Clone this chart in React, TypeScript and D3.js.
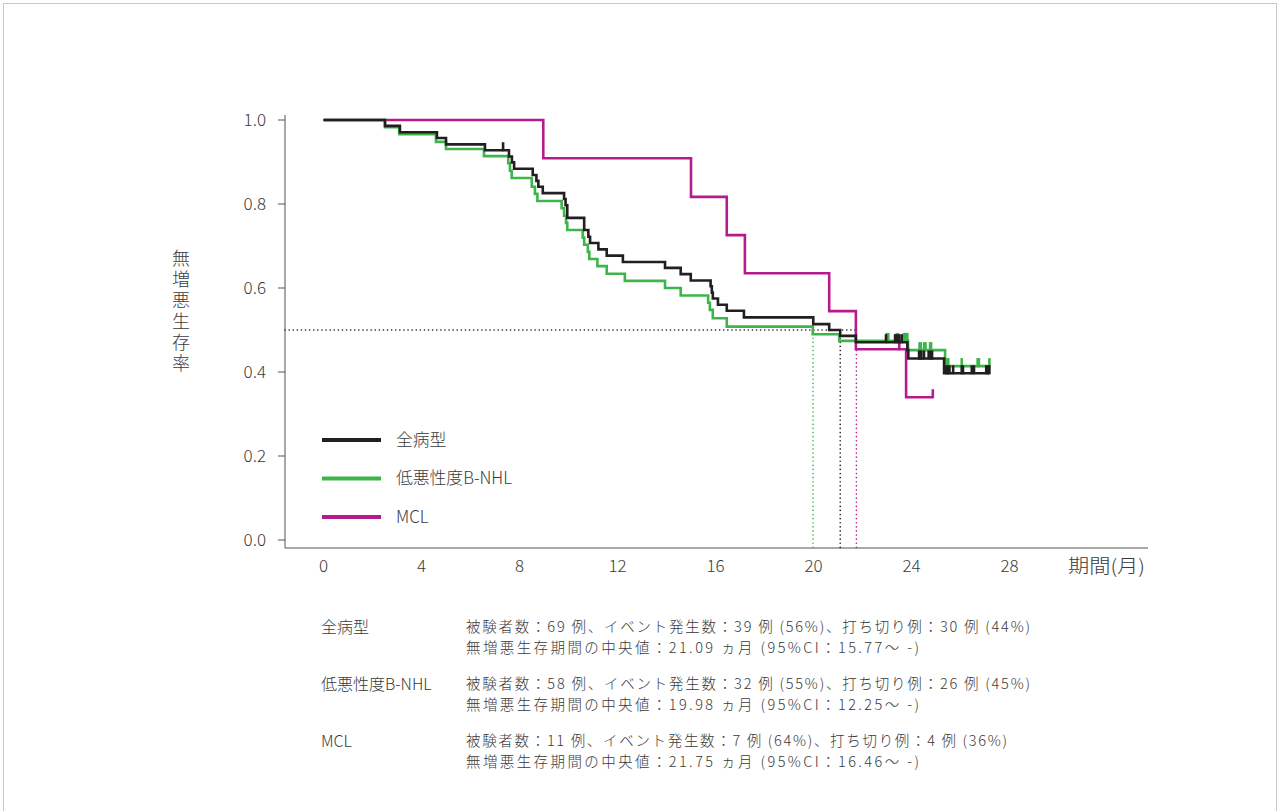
import React from "react";
import * as d3 from "d3";

// ---------- data ----------
const xTicks = [0, 4, 8, 12, 16, 20, 24, 28];
const yTicks = [0.0, 0.2, 0.4, 0.6, 0.8, 1.0];

// 全病型 (all types)
const allTimes = [2.51, 3.12, 4.63, 5.0, 6.59, 7.57, 7.69, 7.78, 8.54, 8.69, 8.77, 8.95, 9.82, 9.88, 9.95, 10.64, 10.81, 10.88, 11.22, 11.56, 12.22, 13.94, 14.58, 14.99, 15.8, 15.85, 15.89, 16.1, 16.46, 17.16, 19.99, 20.64, 21.09, 21.73, 23.83, 23.87, 25.33];
const allSurv = [0.986, 0.971, 0.957, 0.942, 0.928, 0.913, 0.899, 0.884, 0.869, 0.855, 0.841, 0.826, 0.812, 0.797, 0.767, 0.738, 0.722, 0.707, 0.692, 0.677, 0.662, 0.648, 0.633, 0.618, 0.604, 0.589, 0.575, 0.56, 0.546, 0.53, 0.514, 0.5, 0.486, 0.471, 0.452, 0.432, 0.397];
const allCensor = [7.33, 22.96, 23.33, 23.41, 23.5, 23.6, 24.31, 24.35, 24.4, 24.51, 24.7, 24.78, 24.84, 25.42, 25.48, 25.55, 25.7, 26.05, 26.1, 26.46, 26.55, 27.05, 27.12, 27.18];
const allEnd = 27.18;

// 低悪性度B-NHL (indolent B-NHL)
const indTimes = [2.51, 3.09, 4.59, 5.0, 6.55, 7.54, 7.61, 7.68, 8.5, 8.63, 8.73, 9.72, 9.82, 9.9, 9.95, 10.58, 10.64, 10.79, 10.85, 11.18, 11.56, 12.3, 13.94, 14.58, 15.7, 15.77, 15.89, 16.46, 19.97, 21.05, 23.86, 25.37];
const indSurv = [0.983, 0.966, 0.948, 0.931, 0.914, 0.897, 0.879, 0.862, 0.841, 0.824, 0.807, 0.79, 0.772, 0.755, 0.738, 0.72, 0.703, 0.686, 0.669, 0.652, 0.634, 0.617, 0.6, 0.582, 0.565, 0.548, 0.528, 0.508, 0.49, 0.474, 0.452, 0.414];
const indCensor = [22.99, 23.05, 23.4, 23.45, 23.69, 23.75, 23.83, 24.33, 24.38, 24.52, 24.57, 24.76, 24.8, 25.46, 25.5, 26.05, 26.7, 26.75, 27.18];
const indEnd = 27.18;

// MCL
const mclTimes = [8.97, 15.0, 16.46, 17.2, 20.64, 21.73, 23.78];
const mclSurv = [0.909, 0.817, 0.726, 0.635, 0.545, 0.454, 0.34];
const mclCensor = [23.5, 24.87];
const mclEnd = 24.87;

const legendLabels = ["全病型", "低悪性度B-NHL", "MCL"];
const medians = [21.09, 19.98, 21.75];

const tableLabels = ["全病型", "低悪性度B-NHL", "MCL"];
const tableLine1 = [
  "被験者数：69 例、イベント発生数：39 例 (56%)、打ち切り例：30 例 (44%)",
  "被験者数：58 例、イベント発生数：32 例 (55%)、打ち切り例：26 例 (45%)",
  "被験者数：11 例、イベント発生数：7 例 (64%)、打ち切り例：4 例 (36%)",
];
const tableLine2 = [
  "無増悪生存期間の中央値：21.09 ヵ月 (95%CI：15.77～ -)",
  "無増悪生存期間の中央値：19.98 ヵ月 (95%CI：12.25～ -)",
  "無増悪生存期間の中央値：21.75 ヵ月 (95%CI：16.46～ -)",
];
const tableLine1Width = [564, 564, 541];
const tableLine2Width = [453, 453, 453];

const yLabel = "無増悪生存率";
const xLabel = "期間(月)";

// ---------- styles ----------
const COLORS = ["#231f20", "#3db54a", "#b51b8c"];
const FONT = "'Noto Sans CJK JP', 'Noto Sans', sans-serif";
const TEXT = "#3a3a3a";

const x = d3.scaleLinear().domain([0, 28]).range([323.5, 1009.5]);
const y = d3.scaleLinear().domain([0, 1]).range([540, 120]);

type Series = { times: number[]; surv: number[]; censor: number[]; end: number };
const series: Series[] = [
  { times: allTimes, surv: allSurv, censor: allCensor, end: allEnd },
  { times: indTimes, surv: indSurv, censor: indCensor, end: indEnd },
  { times: mclTimes, surv: mclSurv, censor: mclCensor, end: mclEnd },
];

function stepPath(s: Series) {
  const pts: [number, number][] = [[0, 1]];
  let prev = 1;
  s.times.forEach((t, i) => {
    pts.push([t, prev]);
    pts.push([t, s.surv[i]]);
    prev = s.surv[i];
  });
  pts.push([s.end, prev]);
  return d3.line<[number, number]>().x((d) => x(d[0])).y((d) => y(d[1]))(pts) || "";
}

function survAt(s: Series, t: number) {
  let v = 1;
  s.times.forEach((tt, i) => {
    if (tt <= t) v = s.surv[i];
  });
  return v;
}

export default function App() {
  const order = [2, 1, 0];
  return (
    <svg
      width={1280}
      height={811}
      style={{ position: "absolute", left: 0, top: 0, background: "#fff" }}
      fontFamily={FONT}
      fontWeight={300}
    >
      <rect x={3.5} y={3.5} width={1273} height={820} fill="none" stroke="#c8c8c8" strokeWidth={1} />

      {/* axes */}
      <line x1={285} x2={285} y1={115} y2={548} stroke="#555" strokeWidth={1} />
      <line x1={285} x2={1148} y1={548} y2={548} stroke="#555" strokeWidth={1} />
      {yTicks.map((v) => (
        <g key={"yt" + v}>
          <line x1={278} x2={285} y1={y(v)} y2={y(v)} stroke="#555" strokeWidth={1} />
          <text x={266} y={y(v)} dy="0.35em" textAnchor="end" fontSize={17} fill={TEXT}>
            {v.toFixed(1)}
          </text>
        </g>
      ))}
      {xTicks.map((v) => (
        <text key={"xt" + v} x={x(v)} y={572} textAnchor="middle" fontSize={17} fill={TEXT}>
          {v}
        </text>
      ))}
      <text x={1068} y={573} fontSize={19} fill={TEXT} textLength={77} lengthAdjust="spacingAndGlyphs">
        {xLabel}
      </text>
      <text
        x={181}
        y={312}
        textAnchor="middle"
        fontSize={18}
        fill={TEXT}
        style={{ writingMode: "vertical-rl" }}
        letterSpacing={3}
      >
        {yLabel}
      </text>

      {/* median reference lines */}
      <line
        x1={285}
        x2={x(d3.max(medians) as number)}
        y1={y(0.5)}
        y2={y(0.5)}
        stroke="#231f20"
        strokeWidth={1.6}
        strokeDasharray="0.1,4"
        strokeLinecap="round"
      />
      {medians.map((m, i) => (
        <line
          key={"md" + i}
          x1={x(m)}
          x2={x(m)}
          y1={y(0.5)}
          y2={548}
          stroke={COLORS[i]}
          strokeWidth={1.6}
          strokeDasharray="0.1,4"
          strokeLinecap="round"
        />
      ))}

      {/* curves */}
      {order.map((i) => {
        const s = series[i];
        return (
          <g key={"s" + i}>
            <path d={stepPath(s)} fill="none" stroke={COLORS[i]} strokeWidth={2.6} strokeLinejoin="miter" />
            {s.censor.map((c, j) => {
              const yy = y(survAt(s, c));
              return (
                <line
                  key={j}
                  x1={x(c)}
                  x2={x(c)}
                  y1={yy + 1}
                  y2={yy - 8}
                  stroke={COLORS[i]}
                  strokeWidth={2.6}
                />
              );
            })}
          </g>
        );
      })}

      {/* legend */}
      {legendLabels.map((l, i) => (
        <g key={"lg" + i}>
          <line x1={322} x2={381} y1={440 + i * 38.5} y2={440 + i * 38.5} stroke={COLORS[i]} strokeWidth={4} />
          <text x={396} y={440 + i * 38.5} dy="0.35em" fontSize={16.8} fill={TEXT}>
            {l}
          </text>
        </g>
      ))}

      {/* summary table */}
      {tableLabels.map((l, i) => (
        <g key={"tb" + i}>
          <text x={321} y={627 + i * 57} dy="0.35em" fontSize={16} fill={TEXT}>
            {l}
          </text>
          <text
            x={466}
            y={627 + i * 57}
            dy="0.35em"
            fontSize={14.5}
            fill={TEXT}
            textLength={tableLine1Width[i]}
            lengthAdjust="spacing"
          >
            {tableLine1[i]}
          </text>
          <text
            x={466}
            y={648 + i * 57}
            dy="0.35em"
            fontSize={14.5}
            fill={TEXT}
            textLength={tableLine2Width[i]}
            lengthAdjust="spacing"
          >
            {tableLine2[i]}
          </text>
        </g>
      ))}
    </svg>
  );
}
